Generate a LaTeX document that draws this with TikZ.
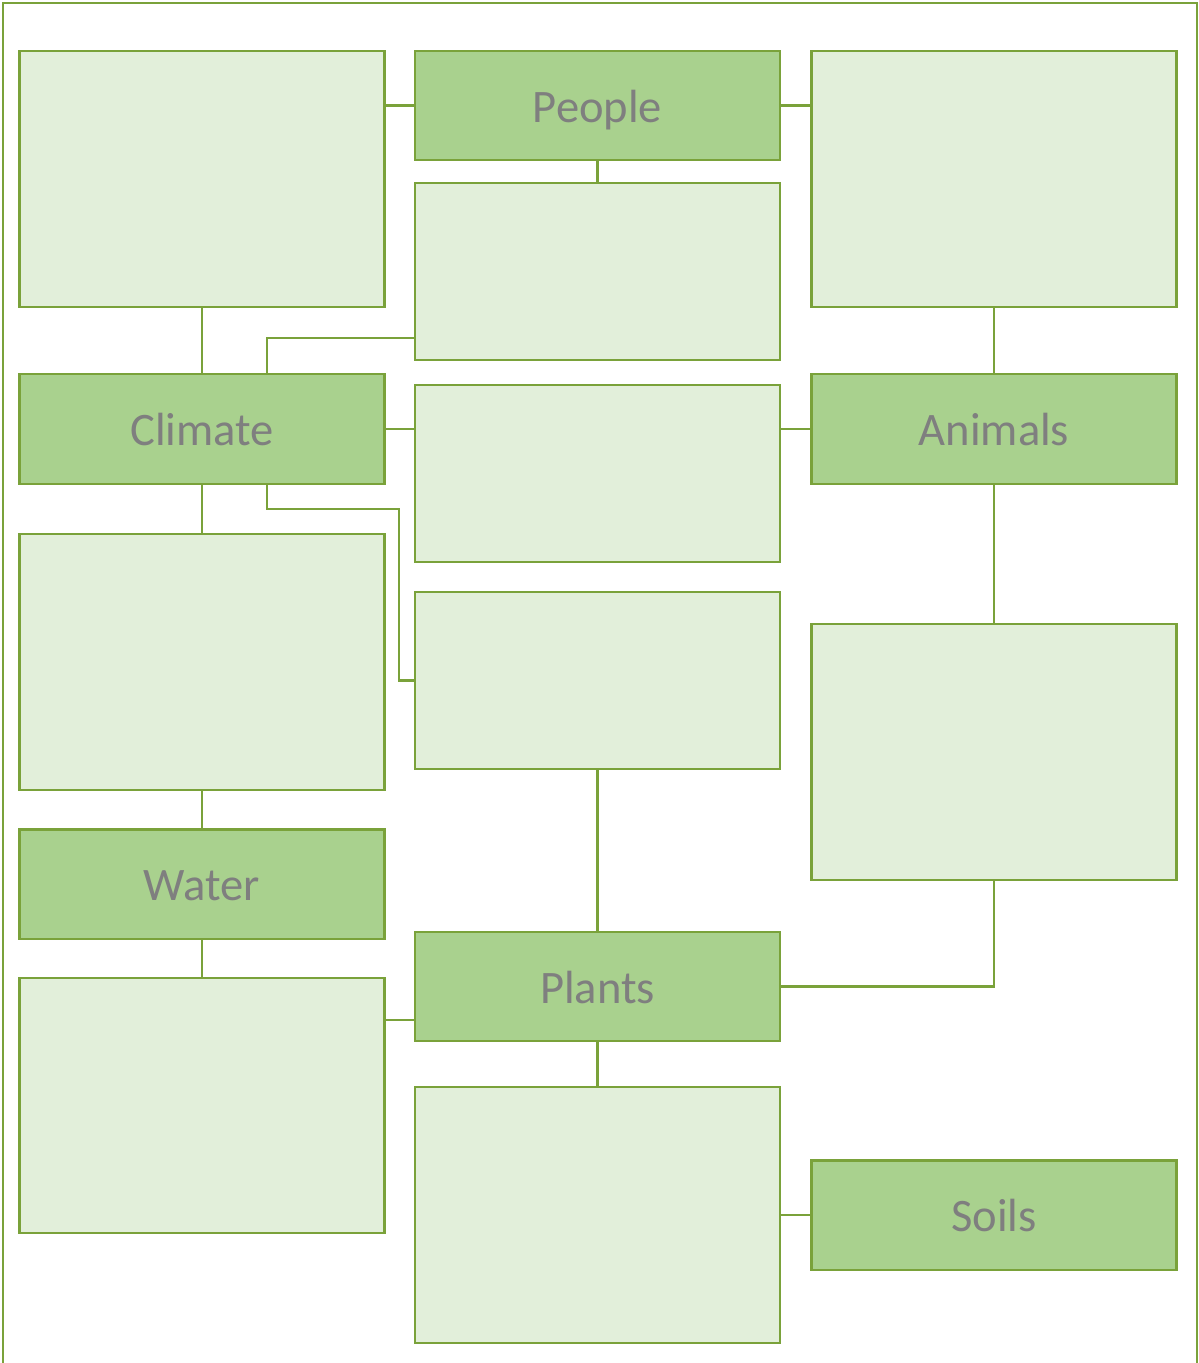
\documentclass[tikz,border=0pt]{standalone}
\usepackage{fontspec}
\setmainfont{Carlito}
\usetikzlibrary{calc}
\definecolor{edge}{HTML}{7AA23A}
\definecolor{darkfill}{HTML}{A9D18E}
\definecolor{lightfill}{HTML}{E2EFDA}
\definecolor{txt}{HTML}{7F7F7F}
\tikzset{
  box/.style={draw=edge, line width=1.4pt, inner sep=0pt, outer sep=0pt, minimum width=7.31cm},
  darkbox/.style={box, fill=darkfill, minimum height=2.19cm, text=txt, font=\fontsize{26.5}{31}\selectfont, text height=22pt, text depth=2.7pt},
  lightbox/.style={box, fill=lightfill},
  conn/.style={draw=edge, line width=1.35pt}
}
\begin{document}
\begin{tikzpicture}[x=0.02cm,y=-0.02cm]
\useasboundingbox (0,0) rectangle (1198,1363);
\fill[white] (0,0) rectangle (1198,1363);
% frame
\draw[edge, line width=1.4pt] (3,1363) -- (3,3) -- (1197,3) -- (1197,1363);
% column 1
\node[lightbox, minimum height=5.12cm] (L1) at (202,179) {};
\node[darkbox] (Climate) at (202,429) {Climate};
\node[lightbox, minimum height=5.12cm] (L2) at (202,662) {};
\node[darkbox] (Water) at (202,884) {Water};
\node[lightbox, minimum height=5.10cm] (L3) at (202,1105.5) {};
% column 2
\node[darkbox] (People) at (597.5,105.5) {People};
\node[lightbox, minimum height=3.54cm] (M1) at (597.5,271.5) {};
\node[lightbox, minimum height=3.54cm] (M2) at (597.5,473.5) {};
\node[lightbox, minimum height=3.54cm] (M3) at (597.5,680.5) {};
\node[darkbox] (Plants) at (597.5,986.5) {Plants};
\node[lightbox, minimum height=5.12cm] (M4) at (597.5,1215) {};
% column 3
\node[lightbox, minimum height=5.12cm] (R1) at (994,179) {};
\node[darkbox] (Animals) at (994,429) {Animals};
\node[lightbox, minimum height=5.12cm] (R2) at (994,752) {};
\node[darkbox] (Soils) at (994,1215) {Soils};
% helper coordinates
\coordinate (c1) at (399,509);
\coordinate (p1) at ([yshift=-0.67cm]Plants.west);
\coordinate (m1) at ([yshift=0.44cm]M1.south west);
% connectors
\draw[conn] (People.west -| L1.east) -- (People.west);
\draw[conn] (People.east) -- (People.east -| R1.west);
\draw[conn] (People.south) -- (M1.north);
\draw[conn] (L1.south) -- (Climate.north);
\draw[conn] (m1) -| ([xshift=1.3cm]Climate.north);
\draw[conn] (Climate.east) -- (Climate.east -| M2.west);
\draw[conn] (Animals.west -| M2.east) -- (Animals.west);
\draw[conn] (R1.south) -- (Animals.north);
\draw[conn] (Climate.south) -- (L2.north);
\draw[conn] ([xshift=1.3cm]Climate.south) |- (c1) |- (M3.west);
\draw[conn] (Animals.south) -- (R2.north);
\draw[conn] (L2.south) -- (Water.north);
\draw[conn] (M3.south) -- (Plants.north);
\draw[conn] (R2.south) |- (Plants.east);
\draw[conn] (Water.south) -- (L3.north);
\draw[conn] (p1 -| L3.east) -- (p1);
\draw[conn] (Plants.south) -- (M4.north);
\draw[conn] (M4.east) -- (Soils.west);
\end{tikzpicture}
\end{document}
